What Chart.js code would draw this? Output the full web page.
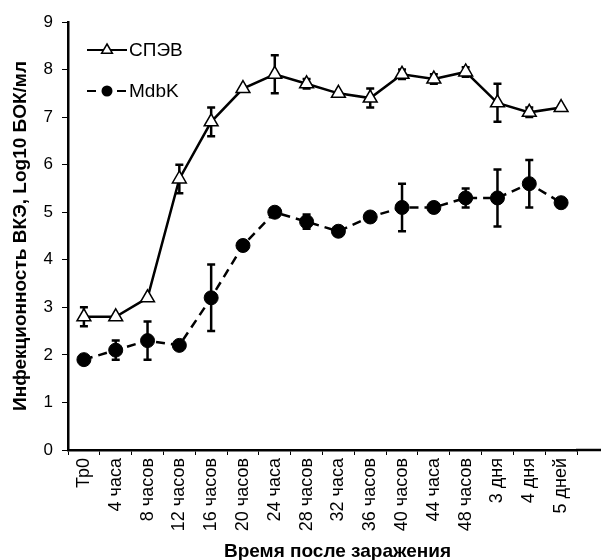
<!DOCTYPE html>
<html><head><meta charset="utf-8">
<script src="https://cdn.jsdelivr.net/npm/chart.js@4"></script>
<style>html,body{margin:0;padding:0;background:#fff}#wrap{width:601px;height:560px}</style>
</head><body><div id="wrap"><canvas id="c" width="601" height="560"></canvas></div>
<script>
const categories = ['Тр0','4 часа','8 часов','12 часов','16 часов','20 часов','24 часа','28 часов','32 часа','36 часов','40 часов','44 часа','48 часов','3 дня','4 дня','5 дней'];
const spevValues = [2.8,2.8,3.2,5.7,6.9,7.6,7.9,7.7,7.5,7.4,7.9,7.8,7.95,7.3,7.1,7.2];
const spevErrors = [0.2,0,0,0.3,0.3,0,0.4,0.1,0,0.2,0.1,0.1,0.1,0.4,0.1,0];
const mdbkValues = [1.9,2.1,2.3,2.2,3.2,4.3,5.0,4.8,4.6,4.9,5.1,5.1,5.3,5.3,5.6,5.2];
const mdbkErrors = [0,0.2,0.4,0,0.7,0,0,0.15,0,0,0.5,0,0.2,0.6,0.5,0];
const yTicks = [0,1,2,3,4,5,6,7,8,9];
const seriesNames = ['СПЭВ','MdbK'];
const FONT = 'Arial, "Liberation Sans", sans-serif';

const errorBars = {
  id:'errorBars',
  beforeDatasetsDraw(chart){
    const ctx = chart.ctx, x = chart.scales.x, y = chart.scales.y;
    ctx.save();
    ctx.strokeStyle = '#000'; ctx.lineWidth = 2.5; ctx.setLineDash([]);
    chart.data.datasets.forEach(ds=>{
      ds.values.forEach((v,i)=>{
        const e = ds.errors[i]; if(!e) return;
        const px = x.getPixelForValue(i);
        const t = y.getPixelForValue(v+e), b = y.getPixelForValue(v-e);
        ctx.beginPath();
        ctx.moveTo(px,t); ctx.lineTo(px,b);
        ctx.moveTo(px-4,t); ctx.lineTo(px+4,t);
        ctx.moveTo(px-4,b); ctx.lineTo(px+4,b);
        ctx.stroke();
      });
    });
    ctx.restore();
  }
};

const titleShift = {
  id:'titleShift',
  afterLayout(chart){
    const s = chart.scales.x;
    if(s && !s._shifted){
      const orig = s.drawTitle.bind(s);
      s.drawTitle = function(){ const c=this.ctx; c.save(); c.translate(15,3); orig(); c.restore(); };
      s._shifted = true;
    }
  }
};

const extras = {
  id:'extras',
  afterDraw(chart){
    const ctx = chart.ctx, a = chart.chartArea;
    ctx.save();
    ctx.strokeStyle='#000'; ctx.lineWidth=2.5;
    ctx.beginPath(); ctx.moveTo(a.right-1,a.bottom); ctx.lineTo(601,a.bottom); ctx.stroke();
    const items = chart.data.datasets;
    const ys = [50,91];
    items.forEach((ds,k)=>{
      const yy = ys[k];
      ctx.strokeStyle='#000'; ctx.lineWidth=2;
      ctx.setLineDash(ds.borderDash||[]);
      ctx.beginPath(); ctx.moveTo(87,yy); ctx.lineTo(127,yy); ctx.stroke();
      ctx.setLineDash([]);
      ctx.fillStyle = ds.pointBackgroundColor; ctx.lineWidth=1.5;
      if(ds.pointStyle==='triangle'){
        const r=6;
        ctx.beginPath(); ctx.moveTo(107,yy-r); ctx.lineTo(107+r*0.9,yy+r*0.55); ctx.lineTo(107-r*0.9,yy+r*0.55); ctx.closePath();
        ctx.fill(); ctx.stroke();
      } else {
        ctx.beginPath(); ctx.arc(107,yy,5.5,0,Math.PI*2); ctx.fill();
      }
      ctx.fillStyle='#000'; ctx.font='19px '+FONT; ctx.textBaseline='middle'; ctx.textAlign='left';
      ctx.fillText(ds.label,129,yy+1);
    });
    ctx.restore();
  }
};

new Chart(document.getElementById('c'),{
  type:'line',
  data:{
    labels:categories,
    datasets:[
      {label:seriesNames[0],data:spevValues,values:spevValues,errors:spevErrors,borderColor:'#000',borderWidth:2.5,
       pointStyle:'triangle',pointRadius:8,pointBackgroundColor:'#fff',pointBorderColor:'#000',pointBorderWidth:1.5,tension:0},
      {label:seriesNames[1],data:mdbkValues,values:mdbkValues,errors:mdbkErrors,borderColor:'#000',borderWidth:2.5,borderDash:[9,6],
       pointStyle:'circle',pointRadius:7,pointBackgroundColor:'#000',pointBorderColor:'#000',pointBorderWidth:1,tension:0}
    ]
  },
  options:{
    responsive:false, animation:false, devicePixelRatio:1,
    layout:{padding:{top:22,right:24,left:0,bottom:0}},
    plugins:{legend:{display:false},tooltip:{enabled:false}},
    scales:{
      x:{
        offset:true,
        grid:{offset:true,drawOnChartArea:false,color:'#000',tickLength:5,tickWidth:1},
        border:{color:'#000',width:2.5},
        ticks:{color:'#000',font:{size:18,family:FONT},minRotation:90,maxRotation:90,autoSkip:false,padding:3},
        title:{display:true,text:'Время после заражения',color:'#000',font:{size:19,weight:'bold',family:FONT},padding:{top:0,bottom:0}},
        afterFit(s){s.height=110;}
      },
      y:{
        min:0,max:9,
        afterBuildTicks(s){s.ticks=yTicks.map(v=>({value:v}));},
        grid:{drawOnChartArea:false,color:'#000',tickLength:6},
        border:{color:'#000',width:2.5},
        ticks:{color:'#000',font:{size:17,family:FONT},padding:9},
        title:{display:true,text:'Инфекционность ВКЭ, Log10 БОК/мл',color:'#000',font:{size:19,weight:'bold',family:FONT},padding:{top:9,bottom:0}},
        afterFit(s){s.width=68;}
      }
    }
  },
  plugins:[errorBars,titleShift,extras]
});
</script></body></html>
